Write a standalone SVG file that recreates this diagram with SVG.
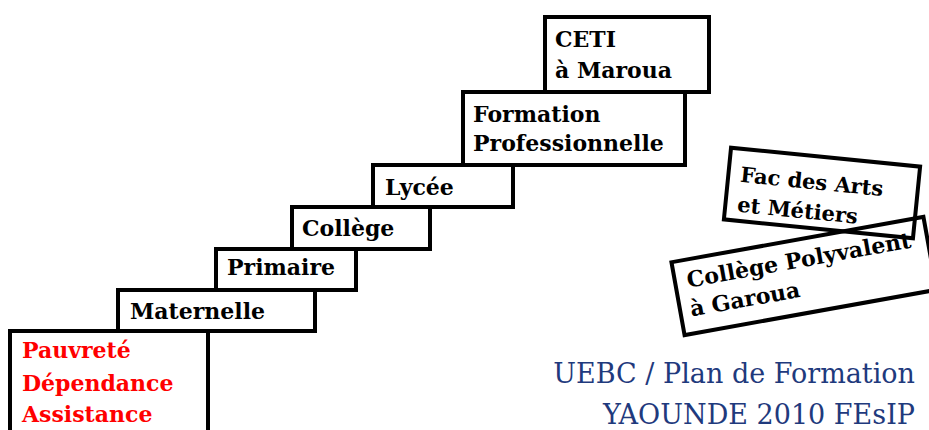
<svg xmlns="http://www.w3.org/2000/svg" width="929" height="430" viewBox="0 0 929 430">
<style>
.box{fill:#fff;stroke:#000;stroke-width:4}
.obox{fill:none;stroke:#000;stroke-width:4}
.t{font-family:"DejaVu Serif","Liberation Serif",serif;font-weight:bold;font-size:22px;fill:#000}
.r{fill:#ff0000}
.s{font-size:21px}
.n{font-family:"DejaVu Serif","Liberation Serif",serif;font-size:27px;fill:#1f3a7d;text-anchor:end}
</style>
<rect width="929" height="430" fill="#fff"/>
<g id="ceti">
<rect class="box" x="545" y="17" width="164" height="75"/>
<text class="t" x="555" y="47">CETI</text>
<text class="t" x="555" y="78">à Maroua</text>
</g>
<g id="formation">
<rect class="box" x="463" y="92" width="222" height="73"/>
<text class="t" x="473" y="122">Formation</text>
<text class="t" x="473" y="151">Professionnelle</text>
</g>
<g id="lycee">
<rect class="box" x="373" y="165" width="140" height="42"/>
<text class="t" x="385" y="195">Lycée</text>
</g>
<g id="college">
<rect class="box" x="292" y="207" width="138" height="42"/>
<text class="t" x="302" y="236">Collège</text>
</g>
<g id="primaire">
<rect class="box" x="216" y="249" width="140" height="41"/>
<text class="t" x="227" y="275">Primaire</text>
</g>
<g id="maternelle">
<rect class="box" x="118" y="290" width="197" height="41"/>
<text class="t" x="130" y="319">Maternelle</text>
</g>
<g id="pauvrete">
<rect class="box" x="10" y="331" width="198" height="120"/>
<text class="t r" x="22" y="358">Pauvreté</text>
<text class="t r" x="22" y="391">Dépendance</text>
<text class="t r" x="22" y="422">Assistance</text>
</g>
<g id="college-polyvalent" transform="translate(804,276) rotate(-10.2)">
<rect class="obox" x="-128" y="-37" width="256" height="74"/>
<text class="t" x="-116" y="-9" font-size="21">Collège Polyvalent</text>
<text class="t" x="-118" y="20" font-size="21">à Garoua</text>
</g>
<g id="fac-arts" transform="translate(822,193) rotate(5.7)">
<rect class="obox" x="-95" y="-36" width="190" height="72"/>
<text class="t s" x="-83" y="-3">Fac des Arts</text>
<text class="t s" x="-83" y="27">et Métiers</text>
</g>
<g id="caption">
<text class="n" x="915" y="383">UEBC / Plan de Formation</text>
<text class="n" x="915" y="424">YAOUNDE 2010 FEsIP</text>
</g>
<g id="connectors"/>
</svg>
